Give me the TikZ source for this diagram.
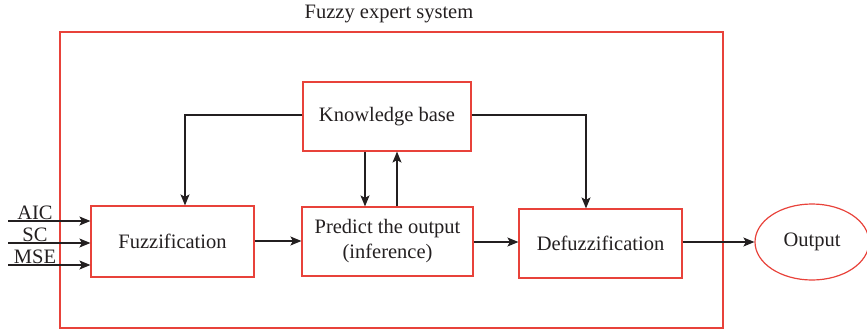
\documentclass[tikz,border=0pt]{standalone}
\usepackage{fontspec}
\setmainfont{Liberation Serif}
\usetikzlibrary{arrows.meta,shapes.geometric}
\definecolor{boxred}{HTML}{E8423A}
\definecolor{ink}{HTML}{231F20}
\tikzset{
  blockbox/.style={draw=boxred, line width=1.2pt, minimum width=#1, minimum height=70pt, inner sep=0pt, align=center, text=ink},
  blockbox/.default=168pt,
  flow/.style={draw=ink, line width=1.2pt, -{Stealth[length=11pt,width=9pt,inset=2.5pt]}},
  lbl/.style={text=ink, inner sep=0pt}
}
\begin{document}
\begin{tikzpicture}[x=1pt,y=-1pt,font=\fontsize{20.5}{25}\selectfont]
\useasboundingbox (0,0) rectangle (867,332);
% system boundary and title
\draw[boxred, line width=1.2pt] (60,32) rectangle (723,328);
\node[lbl] (title) at (389,14) {Fuzzy expert system};
% processing blocks
\node[blockbox=168pt, minimum height=69pt] (kb) at (387,116.5) {Knowledge base};
\node[blockbox=163pt, minimum height=71pt] (fz) at (172.5,241.5) {Fuzzification};
\node[blockbox=171pt, minimum height=69pt] (pr) at (387.5,241.5) {Predict the output\\(inference)};
\node[blockbox=163pt, minimum height=69pt] (dz) at (600.5,243.5) {Defuzzification};
\node[draw=boxred, line width=1.2pt, ellipse, minimum width=114pt, minimum height=76pt, inner sep=0pt, text=ink] (out) at (812,242) {Output};
% inputs
\coordinate (i1) at (8,221);
\coordinate (i2) at (8,243);
\coordinate (i3) at (8,265);
\draw[flow] (i1) -- (i1 -| fz.west);
\draw[flow] (i2) -- (i2 -| fz.west);
\draw[flow] (i3) -- (i3 -| fz.west);
\node[lbl, anchor=south] (aic) at (35,220) {AIC};
\node[lbl, anchor=south] (sc) at (35,242) {SC};
\node[lbl, anchor=south] (mse) at (35,264) {MSE};
% knowledge base links
\coordinate (kl) at (185,115);
\coordinate (kr) at (586,115);
\draw[flow] (kb.west |- kl) -- (kl) -- (kl |- fz.north);
\draw[flow] (kb.east |- kr) -- (kr) -- (kr |- dz.north);
\draw[flow] (365,0 |- kb.south) -- (365,0 |- pr.north);
\draw[flow] (397,0 |- pr.north) -- (397,0 |- kb.south);
% main chain
\draw[flow] (fz.east |- 0,241) -- (pr.west |- 0,241);
\draw[flow] (pr.east |- 0,242) -- (dz.west |- 0,242);
\draw[flow] (dz.east |- 0,242) -- (out.west);
\end{tikzpicture}
\end{document}
